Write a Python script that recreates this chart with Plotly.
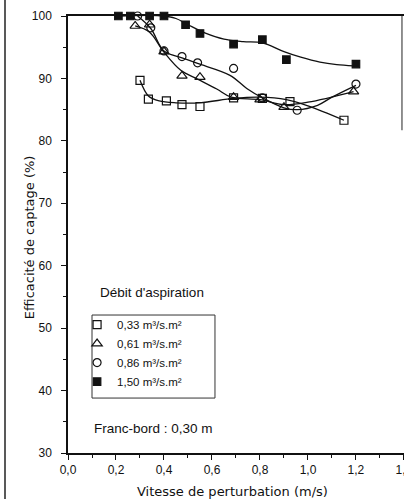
import plotly.graph_objects as go

# ---------------- data ----------------
series_names = ["0,33 m³/s.m²", "0,61 m³/s.m²", "0,86 m³/s.m²", "1,50 m³/s.m²"]

# measured points
x_033 = [0.30, 0.335, 0.41, 0.475, 0.55, 0.69, 0.81, 0.925, 1.15]
y_033 = [89.7, 86.7, 86.4, 85.8, 85.5, 86.9, 86.8, 86.3, 83.3]

x_061 = [0.28, 0.34, 0.40, 0.475, 0.55, 0.69, 0.80, 0.90, 1.19]
y_061 = [98.4, 98.6, 94.3, 90.4, 90.2, 87.0, 86.6, 85.4, 87.9]

x_086 = [0.29, 0.345, 0.40, 0.475, 0.54, 0.69, 0.81, 0.955, 1.20]
y_086 = [100.0, 98.1, 94.4, 93.5, 92.5, 91.6, 86.9, 84.9, 89.1]

x_150 = [0.21, 0.26, 0.34, 0.40, 0.49, 0.55, 0.69, 0.81, 0.91, 1.20]
y_150 = [100.0, 100.0, 100.0, 100.0, 98.6, 97.2, 95.5, 96.2, 93.0, 92.3]

# hand-drawn fitting curves
cx_033 = [0.30, 0.335, 0.38, 0.45, 0.55, 0.69, 0.80, 0.91, 1.00, 1.15]
cy_033 = [89.7, 87.2, 86.4, 86.1, 86.1, 86.8, 87.0, 86.6, 85.6, 83.3]

cx_061 = [0.28, 0.34, 0.40, 0.47, 0.54, 0.62, 0.68, 0.80, 0.90, 1.00, 1.19]
cy_061 = [98.4, 97.4, 94.2, 91.3, 89.9, 88.3, 87.0, 86.6, 85.8, 86.2, 87.9]

cx_086 = [0.29, 0.345, 0.40, 0.475, 0.54, 0.675, 0.745, 0.81, 0.90, 0.955, 1.04, 1.10, 1.20]
cy_086 = [100.0, 98.0, 94.4, 93.3, 92.4, 90.5, 88.4, 86.9, 85.3, 85.0, 85.7, 87.0, 88.9]

cx_150 = [0.21, 0.40, 0.45, 0.50, 0.57, 0.65, 0.73, 0.81, 0.90, 0.97, 1.05, 1.12, 1.19]
cy_150 = [100.0, 100.0, 99.6, 98.6, 97.3, 96.3, 95.9, 95.7, 94.3, 93.4, 92.6, 92.2, 92.0]

x_ticks = [0.0, 0.2, 0.4, 0.6, 0.8, 1.0, 1.2, 1.4]
y_ticks = [30, 40, 50, 60, 70, 80, 90, 100]

# ---------------- figure ----------------
INK = "#111111"
FONT = "Liberation Sans, Arial, sans-serif"
TITLE_FONT = "DejaVu Sans, sans-serif"

fig = go.Figure()

curves = [(cx_033, cy_033), (cx_061, cy_061), (cx_086, cy_086), (cx_150, cy_150)]
points = [(x_033, y_033), (x_061, y_061), (x_086, y_086), (x_150, y_150)]
symbols = ["square-open", "triangle-up-open", "circle-open", "square"]
sizes = [8, 9, 8, 7.5]

for cx, cy in curves:
    fig.add_trace(go.Scatter(
        x=cx, y=cy, mode="lines", line=dict(color=INK, width=1.3, shape="spline", smoothing=1.0),
        showlegend=False, hoverinfo="skip", cliponaxis=False))

for (px, py), sym, sz, name in zip(points, symbols, sizes, series_names):
    fig.add_trace(go.Scatter(
        x=px, y=py, mode="markers", name=name,
        marker=dict(symbol=sym, size=sz, color=INK, line=dict(color=INK, width=1.2)),
        cliponaxis=False))

fig.update_layout(
    width=404, height=499,
    margin=dict(l=68, r=0, t=16, b=46, autoexpand=False),
    paper_bgcolor="white", plot_bgcolor="white",
    separators=", ",
    font=dict(family=FONT, size=12, color=INK),
    showlegend=True,
    legend=dict(x=0.027, y=0.327, xanchor="left", yanchor="top",
                bgcolor="rgba(0,0,0,0)", borderwidth=0,
                font=dict(family=FONT, size=11.5, color=INK),
                tracegroupgap=0),
    xaxis=dict(range=[0, 1.4002], tickvals=x_ticks, tickformat=".1f",
               ticks="outside", ticklen=5, tickwidth=1.2, tickcolor=INK,
               minor=dict(dtick=0.1, ticks="outside", ticklen=3, tickwidth=1, tickcolor=INK),
               showline=True, linecolor=INK, linewidth=1.5, mirror=True,
               showgrid=False, zeroline=False, ticklabeloverflow="allow", automargin=False,
               tickfont=dict(size=12)),
    yaxis=dict(range=[30, 100], tickvals=y_ticks,
               ticks="outside", ticklen=5, tickwidth=1.2, tickcolor=INK,
               minor=dict(dtick=5, ticks="outside", ticklen=3, tickwidth=1, tickcolor=INK),
               showline=True, linecolor=INK, linewidth=1.5, automargin=False,
               showgrid=False, zeroline=False, ticklabelstandoff=7,
               tickfont=dict(size=12)),
)

# axis titles
fig.add_annotation(text="Vitesse de perturbation (m/s)", xref="paper", yref="paper",
                   x=0.491, y=-0.089, xanchor="center", yanchor="middle", showarrow=False,
                   font=dict(family=TITLE_FONT, size=13))
fig.add_annotation(text="Efficacité de captage (%)", xref="paper", yref="paper",
                   x=-0.116, y=0.494, xanchor="center", yanchor="middle", showarrow=False,
                   textangle=-90, font=dict(family=TITLE_FONT, size=13))

# legend frame, scan border lines
fig.add_shape(type="rect", xref="x", yref="y", x0=0.10, x1=0.6125, y0=38.8, y1=52.1,
              line=dict(color="#333333", width=1), layer="below")
fig.add_shape(type="line", xref="paper", yref="paper", x0=-0.1875, x1=-0.1875, y0=-0.105, y1=1.0366,
              line=dict(color="#222222", width=1.5))
fig.add_shape(type="line", xref="paper", yref="y", x0=0.994, x1=0.994, y0=100, y1=81.7,
              line=dict(color="#222222", width=1))

fig.add_annotation(text="Débit d'aspiration", xref="paper", yref="paper", x=0.089, y=0.368,
                   xanchor="left", yanchor="middle", showarrow=False, font=dict(size=13.5))
fig.add_annotation(text="Franc-bord : 0,30 m", xref="paper", yref="paper", x=0.071, y=0.057,
                   xanchor="left", yanchor="middle", showarrow=False, font=dict(size=13.5))

fig.write_html("out.html")
